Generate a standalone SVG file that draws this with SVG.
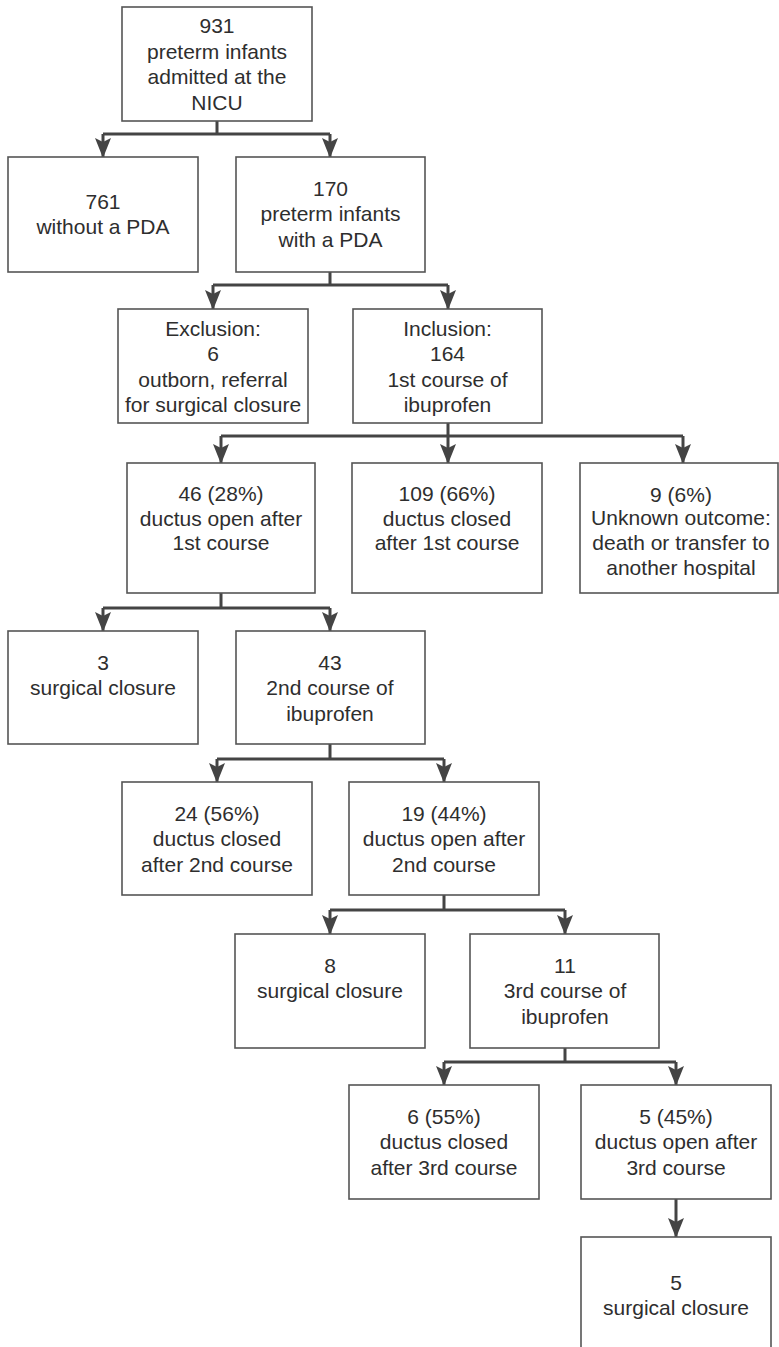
<svg xmlns="http://www.w3.org/2000/svg" width="779" height="1347" viewBox="0 0 779 1347">
<style>
.box{fill:#ffffff;stroke:#555555;stroke-width:1.6}
.t{font-family:"Liberation Sans",Arial,Helvetica,sans-serif;font-size:21px;fill:#2e2e2e;text-anchor:middle}
.c{fill:none;stroke:#444444;stroke-width:3}
</style>
<defs>
<marker id="arr" viewBox="0 0 20 16" refX="19" refY="8" markerWidth="20" markerHeight="16" markerUnits="userSpaceOnUse" orient="auto">
<path d="M0,0 L20,8 L0,16 L4,8 z" fill="#444444"/>
</marker>
</defs>
<rect width="779" height="1347" fill="#ffffff"/>
<g id="connectors">
<path class="c" d="M217,121 V134 M103,134 H330"/>
<path class="c" d="M103,134 V157" marker-end="url(#arr)"/>
<path class="c" d="M330,134 V157" marker-end="url(#arr)"/>
<path class="c" d="M330,272 V285 M213,285 H448"/>
<path class="c" d="M213,285 V309" marker-end="url(#arr)"/>
<path class="c" d="M448,285 V309" marker-end="url(#arr)"/>
<path class="c" d="M448,423 V436 M221,436 H683"/>
<path class="c" d="M221,436 V463" marker-end="url(#arr)"/>
<path class="c" d="M448,436 V463" marker-end="url(#arr)"/>
<path class="c" d="M683,436 V463" marker-end="url(#arr)"/>
<path class="c" d="M221,593 V608 M103,608 H330"/>
<path class="c" d="M103,608 V631" marker-end="url(#arr)"/>
<path class="c" d="M330,608 V631" marker-end="url(#arr)"/>
<path class="c" d="M330,744 V759 M217,759 H444"/>
<path class="c" d="M217,759 V782" marker-end="url(#arr)"/>
<path class="c" d="M444,759 V782" marker-end="url(#arr)"/>
<path class="c" d="M444,895 V910 M330,910 H565"/>
<path class="c" d="M330,910 V934" marker-end="url(#arr)"/>
<path class="c" d="M565,910 V934" marker-end="url(#arr)"/>
<path class="c" d="M565,1048 V1062 M444,1062 H676"/>
<path class="c" d="M444,1062 V1085" marker-end="url(#arr)"/>
<path class="c" d="M676,1062 V1085" marker-end="url(#arr)"/>
<path class="c" d="M676,1199 V1237" marker-end="url(#arr)"/>
</g>
<g id="n931">
<rect class="box" x="122" y="7" width="190" height="114"/>
<text class="t" x="217" y="33">931</text>
<text class="t" x="217" y="58.5">preterm infants</text>
<text class="t" x="217" y="84">admitted at the</text>
<text class="t" x="217" y="109.5">NICU</text>
</g>
<g id="n761">
<rect class="box" x="8" y="157" width="190" height="115"/>
<text class="t" x="103" y="208.5">761</text>
<text class="t" x="103" y="234">without a PDA</text>
</g>
<g id="n170">
<rect class="box" x="236" y="157" width="189" height="115"/>
<text class="t" x="330.5" y="195.5">170</text>
<text class="t" x="330.5" y="221">preterm infants</text>
<text class="t" x="330.5" y="246.5">with a PDA</text>
</g>
<g id="nExclusion">
<rect class="box" x="118" y="309" width="190" height="114"/>
<text class="t" x="213" y="335.5">Exclusion:</text>
<text class="t" x="213" y="361">6</text>
<text class="t" x="213" y="386.5">outborn, referral</text>
<text class="t" x="213" y="412">for surgical closure</text>
</g>
<g id="nInclusion">
<rect class="box" x="353" y="309" width="189" height="114"/>
<text class="t" x="447.5" y="335.5">Inclusion:</text>
<text class="t" x="447.5" y="361">164</text>
<text class="t" x="447.5" y="386.5">1st course of</text>
<text class="t" x="447.5" y="412">ibuprofen</text>
</g>
<g id="n46">
<rect class="box" x="127" y="463" width="188" height="130"/>
<text class="t" x="221" y="501">46 (28%)</text>
<text class="t" x="221" y="525.5">ductus open after</text>
<text class="t" x="221" y="550">1st course</text>
</g>
<g id="n109">
<rect class="box" x="352" y="463" width="190" height="130"/>
<text class="t" x="447" y="501">109 (66%)</text>
<text class="t" x="447" y="525.5">ductus closed</text>
<text class="t" x="447" y="550">after 1st course</text>
</g>
<g id="n9">
<rect class="box" x="580" y="463" width="198" height="130"/>
<text class="t" x="681" y="501.5">9 (6%)</text>
<text class="t" x="681" y="525">Unknown outcome:</text>
<text class="t" x="681" y="550">death or transfer to</text>
<text class="t" x="681" y="575">another hospital</text>
</g>
<g id="n3">
<rect class="box" x="8" y="631" width="190" height="113"/>
<text class="t" x="103" y="669.5">3</text>
<text class="t" x="103" y="695">surgical closure</text>
</g>
<g id="n43">
<rect class="box" x="236" y="631" width="189" height="113"/>
<text class="t" x="330" y="669.5">43</text>
<text class="t" x="330" y="695">2nd course of</text>
<text class="t" x="330" y="720.5">ibuprofen</text>
</g>
<g id="n24">
<rect class="box" x="122" y="782" width="190" height="113"/>
<text class="t" x="217" y="820.5">24 (56%)</text>
<text class="t" x="217" y="846">ductus closed</text>
<text class="t" x="217" y="871.5">after 2nd course</text>
</g>
<g id="n19">
<rect class="box" x="349" y="782" width="190" height="113"/>
<text class="t" x="444" y="820.5">19 (44%)</text>
<text class="t" x="444" y="846">ductus open after</text>
<text class="t" x="444" y="871.5">2nd course</text>
</g>
<g id="n8">
<rect class="box" x="235" y="934" width="190" height="114"/>
<text class="t" x="330" y="972.5">8</text>
<text class="t" x="330" y="998">surgical closure</text>
</g>
<g id="n11">
<rect class="box" x="470" y="934" width="189" height="114"/>
<text class="t" x="565" y="972.5">11</text>
<text class="t" x="565" y="998">3rd course of</text>
<text class="t" x="565" y="1023.5">ibuprofen</text>
</g>
<g id="n6">
<rect class="box" x="349" y="1085" width="190" height="114"/>
<text class="t" x="444" y="1123.5">6 (55%)</text>
<text class="t" x="444" y="1149">ductus closed</text>
<text class="t" x="444" y="1174.5">after 3rd course</text>
</g>
<g id="n5open">
<rect class="box" x="581" y="1085" width="190" height="114"/>
<text class="t" x="676" y="1123.5">5 (45%)</text>
<text class="t" x="676" y="1149">ductus open after</text>
<text class="t" x="676" y="1174.5">3rd course</text>
</g>
<g id="n5surg">
<rect class="box" x="581" y="1237" width="190" height="120"/>
<text class="t" x="676" y="1289.5">5</text>
<text class="t" x="676" y="1314.5">surgical closure</text>
</g>
</svg>
